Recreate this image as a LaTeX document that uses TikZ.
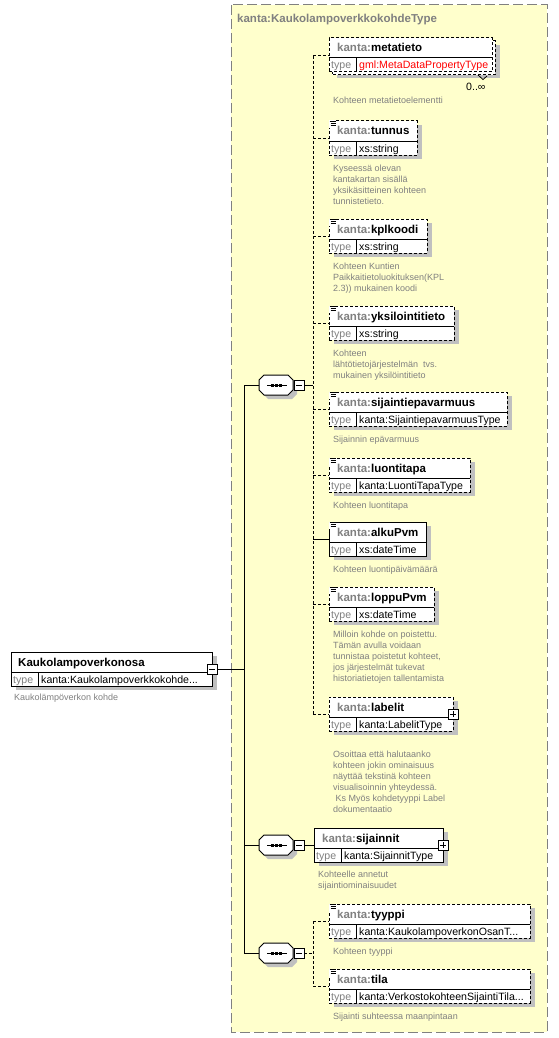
\documentclass[tikz,border=0pt]{standalone}
\usepackage{fontspec}
\setmainfont{Liberation Sans}
\definecolor{ybg}{RGB}{255,255,204}
\definecolor{ybd}{RGB}{128,128,128}
\definecolor{shc}{RGB}{192,192,192}
\definecolor{gtx}{RGB}{128,128,128}
\definecolor{rtx}{RGB}{255,0,0}
\tikzset{
  bx/.style={draw=black, fill=white, line width=1pt, inner sep=0pt, outer sep=0pt, minimum height=34pt},
  dsh/.style={dash pattern=on 3pt off 2pt},
  nmf/.style={font=\fontsize{11.5}{13}\selectfont\bfseries, inner sep=0pt, anchor=base west},
  tpf/.style={font=\fontsize{10.6}{12}\selectfont, inner sep=0pt, anchor=base west},
  dsf/.style={font=\fontsize{9}{11}\selectfont, text=gtx, inner sep=0pt, anchor=north west, align=left},
  pmbox/.style={draw=black, fill=white, line width=1pt, minimum size=10pt, inner sep=0pt, outer sep=0pt},
  ln/.style={line width=1pt},
  cn/.style={line width=1pt, dash pattern=on 3pt off 2pt},
}
% id, x, y, width, border style, name, type text
\newcommand{\elem}[7]{%
  \fill[shc] ({#2+5},{#3+4}) rectangle ({#2+#4+5},{#3+38});
  \node[bx,#5,minimum width=#4pt,anchor=north west] (#1) at (#2,#3) {};
  \draw[ln] ({#2},{#3+20}) -- ({#2+#4},{#3+20});
  \draw[ln] ({#2+27},{#3+20}) -- ({#2+27},{#3+34});
  \node[nmf] (#1-n) at ({#2+8},{#3+14}) {\textcolor{gtx}{kanta:}#6};
  \node[tpf,text=gtx] (#1-tl) at ({#2+2},{#3+31}) {type};
  \node[tpf] (#1-t) at ({#2+30},{#3+31}) {#7};
  \coordinate (#1-c) at (#2,{#3+17});
}
\newcommand{\docic}[2]{%
  \fill[white] ({#1-0.5},{#2-0.5}) rectangle ({#1+7},{#2+7});
  \draw[line width=1pt] ({#1+0.5},{#2+0.5}) -- ({#1+6.5},{#2+0.5})
    ({#1+1.5},{#2+2.5}) -- ({#1+6.5},{#2+2.5})
    ({#1+1.5},{#2+4.5}) -- ({#1+6.5},{#2+4.5});
}
\newcommand{\minusb}[3]{%
  \node[pmbox] (#1) at (#2,#3) {};
  \draw[ln] ({#2-3},#3) -- ({#2+3},#3);
}
\newcommand{\plusb}[3]{%
  \node[pmbox] (#1) at (#2,#3) {};
  \draw[ln] ({#2-3},#3) -- ({#2+3},#3) (#2,{#3-3}) -- (#2,{#3+3});
}
% sequence compositor: id, x left, centre y
\newcommand{\seqc}[3]{%
  \fill[shc] ({#2+5+4},{#3-10+4}) -- ({#2+29+4},{#3-10+4}) -- ({#2+34+4},{#3-5+4}) -- ({#2+34+4},{#3+5+4})
    -- ({#2+29+4},{#3+10+4}) -- ({#2+5+4},{#3+10+4}) -- ({#2+4},{#3+5+4}) -- ({#2+4},{#3-5+4}) -- cycle;
  \draw[ln,fill=white] ({#2+5},{#3-10}) -- ({#2+29},{#3-10}) -- ({#2+34},{#3-5}) -- ({#2+34},{#3+5})
    -- ({#2+29},{#3+10}) -- ({#2+5},{#3+10}) -- (#2,{#3+5}) -- (#2,{#3-5}) -- cycle;
  \draw[ln] ({#2+8},#3) -- ({#2+28},#3);
  \fill ({#2+11.5},{#3-1.5}) rectangle +(3,3);
  \fill ({#2+15.5},{#3-1.5}) rectangle +(3,3);
  \fill ({#2+19.5},{#3-1.5}) rectangle +(3,3);
  \coordinate (#1) at (#2,#3);
  \minusb{#1-m}{#2+40}{#3}
}
\begin{document}
\begin{tikzpicture}[x=1pt,y=-1pt]
\useasboundingbox (0,0) rectangle (558,1038);
\fill[white] (0,0) rectangle (558,1038);
% type container
\draw[ybd, fill=ybg, line width=1pt, dash pattern=on 10pt off 4pt] (231,5) rectangle (547,1032);
\node[nmf, text=gtx] (ttl) at (237,23) {kanta:KaukolampoverkkokohdeType};

% main element
\fill[shc] (16,656) rectangle (217,690);
\node[bx, minimum width=201pt, anchor=north west] (main) at (11,652) {};
\draw[ln] (11,672) -- (212,672);
\draw[ln] (38,672) -- (38,686);
\node[nmf] (main-n) at (18,666) {Kaukolampoverkonosa};
\node[tpf,text=gtx] (main-tl) at (13,683) {type};
\node[tpf] (main-t) at (41,683) {kanta:Kaukolampoverkkokohde...};
\minusb{main-m}{212}{669}
\node[dsf] (main-d) at (14,694) {Kaukolämpöverkon kohde};

% spine
\coordinate (spT) at (244,385);
\coordinate (spB) at (244,953);
\draw[ln] (main-m.east) -- (main-m.east -| spT);
\draw[ln] (spT) -- (spB);

% compositors
\seqc{s1}{259}{385}
\seqc{s2}{259}{845}
\seqc{s3}{259}{953}
\draw[ln] (spT) -- (s1);
\draw[ln] (s2 -| spT) -- (s2);
\draw[ln] (spB) -- (s3);

% ---- sequence 1 ----
\coordinate (b1) at (313,56);
\coordinate (b1e) at (313,714);
\draw[ln] (s1-m.east) -- (s1-m.east -| b1);
\draw[cn] (b1) -- (b1e);

% metatieto (multiple occurrences)
\fill[shc] (337,45) rectangle (500,78);
\draw[ln,dsh,fill=white] (332,41) rectangle (495,75);
\node[bx,dsh,minimum width=163pt,anchor=north west] (meta) at (329,38) {};
\draw[ln] (329,58) -- (492,58);
\draw[ln] (356,58) -- (356,72);
\node[nmf] (meta-n) at (337,52) {\textcolor{gtx}{kanta:}metatieto};
\node[tpf,text=gtx] (meta-tl) at (331,69) {type};
\node[tpf,text=rtx] (meta-t) at (359,69) {gml:MetaDataPropertyType};
\coordinate (meta-c) at (329,56);
\draw[line width=0.8pt] (478,75) -- (483,79.5) -- (487,76);
\node[tpf] (meta-card) at (466,91) {0..∞};
\node[dsf] (meta-d) at (333,97) {Kohteen metatietoelementti};
\draw[cn] (b1) -- (meta-c);

\elem{tunnus}{329}{121}{88}{dsh}{tunnus}{xs:string}
\docic{329}{121}
\node[dsf] (tunnus-d) at (333,164) {\rule{0pt}{7pt}Kyseessä olevan\\kantakartan sisällä\\yksikäsitteinen kohteen\\tunnistetieto.};
\draw[cn] (b1 |- tunnus-c) -- (tunnus-c);

\elem{kpl}{329}{219}{98}{dsh}{kplkoodi}{xs:string}
\docic{329}{219}
\node[dsf] (kpl-d) at (333,262) {\rule{0pt}{7pt}Kohteen Kuntien\\Paikkaitietoluokituksen(KPL\\2.3)) mukainen koodi};
\draw[cn] (b1 |- kpl-c) -- (kpl-c);

\elem{yks}{329}{306}{125}{dsh}{yksilointitieto}{xs:string}
\docic{329}{306}
\node[dsf] (yks-d) at (333,349) {\rule{0pt}{7pt}Kohteen\\lähtötietojärjestelmän\ \ tvs.\\mukainen yksilöintitieto};
\draw[cn] (b1 |- yks-c) -- (yks-c);

\elem{sij}{329}{392}{178}{dsh}{sijaintiepavarmuus}{kanta:SijaintiepavarmuusType}
\docic{329}{392}
\node[dsf] (sij-d) at (333,435) {\rule{0pt}{7pt}Sijainnin epävarmuus};
\draw[cn] (b1 |- sij-c) -- (sij-c);

\elem{luo}{329}{458}{141}{dsh}{luontitapa}{kanta:LuontiTapaType}
\docic{329}{458}
\node[dsf] (luo-d) at (333,501) {\rule{0pt}{7pt}Kohteen luontitapa};
\draw[cn] (b1 |- luo-c) -- (luo-c);

\elem{alku}{329}{522}{97}{solid}{alkuPvm}{xs:dateTime}
\docic{329}{522}
\node[dsf] (alku-d) at (333,565) {\rule{0pt}{7pt}Kohteen luontipäivämäärä};
\draw[ln] (b1 |- alku-c) -- (alku-c);

\elem{loppu}{329}{587}{105}{dsh}{loppuPvm}{xs:dateTime}
\docic{329}{587}
\node[dsf] (loppu-d) at (333,630) {\rule{0pt}{7pt}Milloin kohde on poistettu.\\Tämän avulla voidaan\\tunnistaa poistetut kohteet,\\jos järjestelmät tukevat\\historiatietojen tallentamista};
\draw[cn] (b1 |- loppu-c) -- (loppu-c);

\elem{lab}{329}{697}{124}{dsh}{labelit}{kanta:LabelitType}
\plusb{lab-p}{453}{714}
\node[dsf] (lab-d) at (333,750) {\rule{0pt}{7pt}Osoittaa että halutaanko\\kohteen jokin ominaisuus\\näyttää tekstinä kohteen\\visualisoinnin yhteydessä.\\\ Ks Myös kohdetyyppi Label\\dokumentaatio};
\draw[cn] (b1e) -- (lab-c);

% ---- sequence 2 ----
\elem{sijn}{314}{828}{129}{solid}{sijainnit}{kanta:SijainnitType}
\plusb{sijn-p}{443}{845}
\node[dsf] (sijn-d) at (318,870) {\rule{0pt}{7pt}Kohteelle annetut\\sijaintiominaisuudet};
\draw[ln] (s2-m.east) -- (s2-m.east -| sijn.west);

% ---- sequence 3 ----
\coordinate (b3) at (313,921);
\coordinate (b3e) at (313,986);
\draw[cn] (s3-m.east) -- (s3-m.east -| b3);
\draw[cn] (b3) -- (b3e);

\elem{tyy}{329}{904}{201}{dsh}{tyyppi}{kanta:KaukolampoverkonOsanT...}
\docic{329}{904}
\node[dsf] (tyy-d) at (333,947) {\rule{0pt}{7pt}Kohteen tyyppi};
\draw[cn] (b3) -- (tyy-c);

\elem{tila}{329}{969}{201}{dsh}{tila}{kanta:VerkostokohteenSijaintiTila...}
\docic{329}{969}
\node[dsf] (tila-d) at (333,1012) {\rule{0pt}{7pt}Sijainti suhteessa maanpintaan};
\draw[cn] (b3e) -- (tila-c);
\end{tikzpicture}
\end{document}
